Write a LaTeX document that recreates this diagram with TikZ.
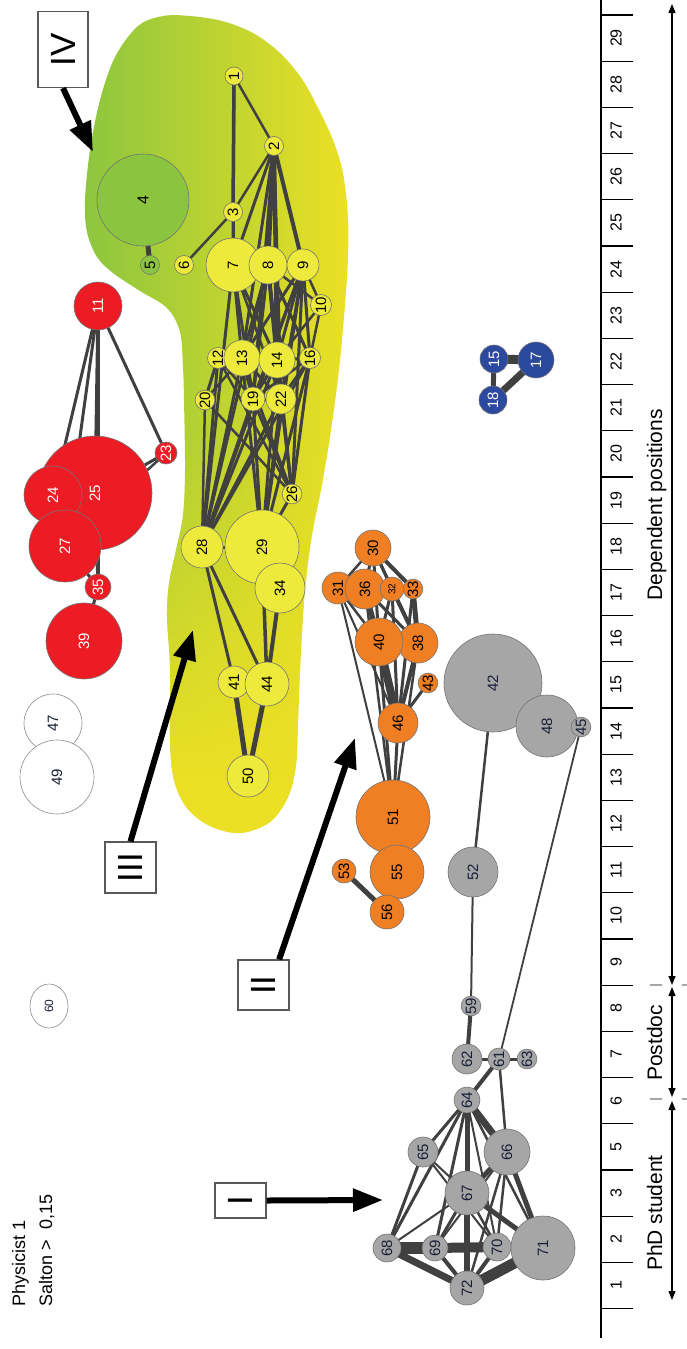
\documentclass[tikz,border=0pt]{standalone}
\usepackage{fontspec}
\setmainfont{Liberation Sans}
\usepackage{graphicx}
\usetikzlibrary{arrows.meta,fadings,calc,shapes.geometric}
\pgfdeclarelayer{blobl}
\pgfdeclarelayer{edgel}
\pgfsetlayers{blobl,edgel,main}
\definecolor{cyel}{RGB}{238,234,60}
\definecolor{cgrn}{RGB}{139,197,63}
\definecolor{cred}{RGB}{237,28,36}
\definecolor{corg}{RGB}{240,126,35}
\definecolor{cgry}{RGB}{166,166,166}
\definecolor{cblu}{RGB}{43,73,158}
\definecolor{cedge}{RGB}{64,64,64}
\definecolor{ctxt}{RGB}{25,30,55}
\definecolor{bgreen}{RGB}{140,198,63}
\definecolor{byellow}{RGB}{236,224,36}
\tikzfading[name=myfade, top color=transparent!100, bottom color=transparent!0]
\tikzset{
  nd/.style={circle, draw=black!55, line width=0.6pt, inner sep=0pt, rotate=90, font=\fontsize{15}{15}\selectfont},
  Y/.style={nd, fill=cyel},
  G/.style={nd, fill=cgrn},
  R/.style={nd, fill=cred, text=white},
  O/.style={nd, fill=corg},
  A/.style={nd, fill=cgry, text=ctxt},
  B/.style={nd, fill=cblu, text=white},
  W/.style={nd, fill=white, draw=black!45, text=ctxt},
  lnk/.style={draw=cedge, line cap=round},
  bigarrow/.style={line width=6pt, -{Triangle[length=30pt,width=22pt]}},
  numbox/.style={draw=black!65, line width=1.2pt, fill=white, inner sep=0pt, font=\fontsize{35}{35}\selectfont},
  axl/.style={rotate=90, font=\fontsize{16}{16}\selectfont},
  axtick/.style={line width=1.3pt},
  dbl/.style={line width=1.2pt, {Triangle[length=9pt,width=7pt]}-{Triangle[length=9pt,width=7pt]}},
  sepl/.style={draw=black!35, line width=1.5pt},
  lbl/.style={rotate=90, anchor=base, font=\fontsize{21}{21}\selectfont},
}
\def\blobpath{plot[smooth cycle, tension=0.55] coordinates {(190,16) (222,21) (253,33) (280,53) (302,79) (318,108) (333,140) (343,173) (348,217) (348,258) (345,305) (339,370) (330,437) (321,490) (312,535) (305,590) (301,650) (298,720) (296,765) (288,797) (270,822) (240,833) (210,826) (187,808) (174,780) (170,740) (170,667) (167,617) (169,583) (176,550) (183,515) (185,470) (184,400) (183,368) (180,332) (167,308) (140,291) (113,273) (97,257) (87,232) (85,200) (90,150) (100,100) (115,57) (138,26) (163,16)}}
\begin{document}
\begin{tikzpicture}[x=1pt,y=-1pt]
\useasboundingbox (0,0) rectangle (686,1349);
% ---------- blob
\begin{pgfonlayer}{blobl}
\shade[left color=bgreen, right color=byellow] \blobpath;
\begin{scope}
\clip \blobpath;
\fill[byellow, path fading=myfade] (60,430) rectangle (380,780);
\fill[byellow] (60,779) rectangle (380,860);
\end{scope}
\end{pgfonlayer}
% ---------- nodes
\foreach \n/\x/\y/\d in {1/234/76/18, 2/274/146/19, 3/233/212/19, 6/184/265/19, 7/233/265/54, 8/268/265/38, 9/303/265/32, 10/321/305/21, 12/218/358/21, 13/242/358/36, 14/277/360/36, 16/310/358/21, 20/205/400/19, 19/253/399/24, 22/281/399/30, 26/292/494/19, 29/262/547/74, 28/202/547/42, 34/280/588/50, 41/234/682/32, 44/267/684/44, 50/248/776/42}
  \node[Y, minimum size=\d pt] (n\n) at (\x,\y) {\n};
\node[G, minimum size=92pt, font=\fontsize{16}{16}\selectfont] (n4) at (143,200) {4};
\node[G, minimum size=19pt] (n5) at (150,265) {5};
\foreach \n/\x/\y/\d in {11/98/306/48, 23/166/453/22, 25/95/493/114, 24/53/495/58, 27/65/546/72, 35/98/587/26, 39/84/641/76}
  \node[R, minimum size=\d pt] (n\n) at (\x,\y) {\n};
\node[W, minimum size=58pt] (n47) at (53,723) {47};
\node[W, minimum size=74pt] (n49) at (57,777) {49};
\node[W, ellipse, minimum width=44pt, minimum height=38pt, font=\fontsize{12}{12}\selectfont] (n60) at (49,1006) {60};
\foreach \n/\x/\y/\d in {15/494/359/28, 18/493/400/28, 17/536/360/36}
  \node[B, minimum size=\d pt] (n\n) at (\x,\y) {\n};
\foreach \n/\x/\y/\d in {30/373/548/36, 31/338/588/32, 36/365/589/40, 33/413/589/19, 38/418/643/40, 40/379/642/48, 43/428/683/19, 46/398/723/40, 51/393/817/74, 55/397/872/54, 53/344/871/24, 56/387/912/34}
  \node[O, minimum size=\d pt] (n\n) at (\x,\y) {\n};
\node[O, minimum size=24pt, font=\fontsize{10}{10}\selectfont] (n32) at (392,589) {32};
\foreach \n/\x/\y/\d in {42/493/683/98, 48/547/726/62, 45/581/727/19, 52/473/872/50, 59/471/1006/19, 62/467/1059/30, 61/499/1059/22, 63/527/1059/17, 64/467/1100/26, 65/423/1152/30, 66/507/1152/46, 67/467/1193/44, 68/387/1248/28, 69/435/1248/26, 70/497/1247/28, 71/543/1248/64, 72/467/1288/34}
  \node[A, minimum size=\d pt] (n\n) at (\x,\y) {\n};
% ---------- edges
\begin{pgfonlayer}{edgel}
\foreach \a/\b/\w in {4/5/5pt,
 1/3/3.5pt, 1/2/2.5pt, 1/7/3pt, 3/7/3pt, 2/3/2.5pt, 3/6/2.5pt,
 2/7/3pt, 2/8/4pt, 2/9/4pt, 2/13/3pt, 2/14/4pt, 2/22/3pt, 2/19/3pt,
 7/8/3pt, 8/9/3pt, 7/13/3pt, 7/14/3pt, 7/19/3pt, 7/22/2.5pt, 8/13/3pt, 8/14/4pt, 8/16/3pt, 8/19/3pt, 8/22/3pt, 8/26/3pt, 9/13/3pt, 9/14/3pt, 9/16/3pt, 9/19/2.5pt, 9/22/3pt, 9/26/3pt, 9/10/2.5pt, 8/10/2.5pt, 10/16/2.5pt, 10/14/2.5pt,
 12/13/3pt, 12/20/3pt, 13/20/2.5pt, 12/19/2.5pt, 13/14/3pt, 13/19/3pt, 13/22/3pt, 14/19/3pt, 14/22/4pt, 14/16/3pt, 16/22/3pt, 16/19/2.5pt, 19/22/3pt,
 7/28/3pt, 8/28/3pt, 9/28/3pt, 12/28/3pt, 13/28/3pt, 14/28/3pt, 16/28/3pt, 19/28/3pt, 22/28/3pt, 20/28/2.5pt,
 13/26/3pt, 14/26/3pt, 16/26/3pt, 19/26/3pt, 22/26/3pt, 12/26/2.5pt, 20/26/2.5pt,
 13/29/3pt, 14/29/3pt, 16/29/3pt, 19/29/3pt, 22/29/3pt, 26/29/3pt, 9/29/3pt,
 28/29/3pt, 28/41/3pt, 28/44/3pt, 29/44/3.5pt, 34/44/4pt, 41/50/5pt, 44/50/5pt,
 11/24/3pt, 11/27/3pt, 11/25/3pt, 11/35/3pt, 11/23/3pt, 23/25/3pt, 23/27/2.5pt, 25/35/3pt, 27/35/3pt, 35/39/3pt,
 15/17/9pt, 17/18/7pt, 15/18/5pt,
 30/36/3pt, 30/31/2.5pt, 30/32/3pt, 30/33/4pt, 30/38/3pt, 30/40/3pt, 31/36/3pt, 31/40/2.5pt, 31/51/2pt, 31/46/2pt, 36/40/5pt, 36/38/3pt, 32/36/3pt, 36/46/4pt, 32/38/4pt, 32/40/3pt, 32/46/3pt, 33/38/5pt, 33/46/3pt, 38/40/3pt, 40/46/8pt, 38/46/4pt, 43/46/3pt, 40/51/3pt, 38/51/2.5pt, 46/51/3pt, 36/51/2.5pt, 51/55/3pt, 53/56/5pt,
 52/59/2pt, 42/52/2.5pt, 59/62/4pt, 61/62/3pt, 61/63/3pt, 61/64/4pt, 61/66/2.5pt, 45/61/1.8pt, 64/65/3pt, 64/66/7pt, 64/67/4pt, 64/68/3pt, 64/69/3pt, 64/70/2pt, 64/72/5pt, 64/71/2.5pt, 65/68/3pt, 65/67/2pt, 65/70/2pt, 66/67/5pt, 66/71/5pt, 66/70/2.5pt, 66/72/2.5pt, 66/69/2pt, 67/68/2pt, 67/69/3pt, 67/70/2.5pt, 67/71/5pt, 67/72/6pt, 68/69/12pt, 69/70/10pt, 68/72/7pt, 69/72/4pt, 70/72/4pt, 71/72/11pt, 70/71/4pt}
  \draw[lnk, line width=\w] (n\a.center) -- (n\b.center);
\end{pgfonlayer}
% ---------- boxes and arrows
\node[numbox, minimum width=51pt, minimum height=35pt] (bI) at (240.5,1200.5) {\rotatebox{90}{I}};
\node[numbox, minimum width=51pt, minimum height=50pt] (bII) at (263.5,985) {\rotatebox{90}{II}};
\node[numbox, minimum width=51pt, minimum height=51pt] (bIII) at (130.5,867.5) {\rotatebox{90}{III}};
\node[numbox, minimum width=50pt, minimum height=76pt] (bIV) at (63,49.5) {\rotatebox{90}{IV}};
\coordinate (tI) at (383,1200);
\coordinate (tII) at (355,738);
\coordinate (tIII) at (193,630);
\coordinate (tIV) at (93,152);
\draw[bigarrow] (bI.east) -- (tI);
\draw[bigarrow] ($(bII.north)!0.6!(bII.north east)$) -- (tII);
\draw[bigarrow] (bIII.north) -- (tIII);
\draw[bigarrow] (bIV.south) -- (tIV);
% ---------- titles
\node[rotate=90, anchor=base west, font=\fontsize{18}{18}\selectfont] (t1) at (25,1310) {Physicist 1};
\node[rotate=90, anchor=base west, font=\fontsize{18}{18}\selectfont] (t2) at (52,1310) {Salton >\ \ 0,15};
% ---------- axis
\draw[line width=1.8pt] (601,0) -- (601,1338);
\foreach \k in {0,...,28} \draw[axtick] ({601},{15+46.2*\k}) -- ({633},{15+46.2*\k});
\foreach \lab [count=\i from 0, evaluate=\i as \yy using 15+46.2*(\i+0.5)] in {29,28,27,26,25,24,23,22,21,20,19,18,17,16,15,14,13,12,11,10,9,8,7,6,5,3,2,1}
  \node[axl] (ax\lab) at (616,\yy) {\lab};
\coordinate (dTop) at (672,4);
\coordinate (dBot) at (672,985);
\coordinate (pTop) at (672,987);
\coordinate (pBot) at (672,1097);
\coordinate (sTop) at (672,1101);
\coordinate (sBot) at (672,1300);
\draw[dbl] (dBot) -- (dTop);
\draw[dbl] (pTop) -- (pBot);
\draw[dbl] (sTop) -- (sBot);
\foreach \yy in {985,1099} {
  \draw[sepl] (650,\yy) -- (662,\yy);
  \draw[sepl] (682,\yy) -- (692,\yy);
}
\node[lbl] (ldep) at (662,505) {Dependent positions};
\node[lbl] (lpost) at (662,1043) {Postdoc};
\node[lbl] (lphd) at (662,1213) {PhD student};
\end{tikzpicture}
\end{document}
